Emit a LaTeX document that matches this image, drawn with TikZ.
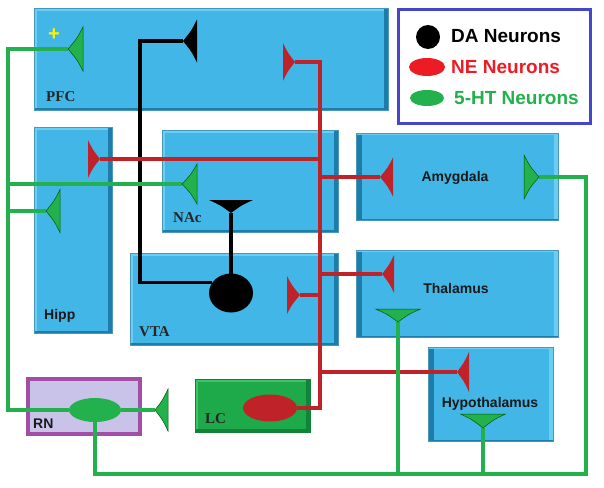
\documentclass[tikz,border=0pt]{standalone}
\usepackage{fontspec}
\setmainfont{Liberation Serif}
\setsansfont{Liberation Sans}
\usetikzlibrary{shapes.geometric}
\definecolor{boxblue}{HTML}{42B7E7}
\definecolor{boxdark}{HTML}{1C7DAA}
\definecolor{boxlight}{HTML}{6ACDF2}
\definecolor{lcgreen}{HTML}{1EAA4A}
\definecolor{lcdark}{HTML}{12843A}
\definecolor{lclight}{HTML}{3CC462}
\definecolor{rnfill}{HTML}{C9C3EA}
\definecolor{rnborder}{HTML}{A24DA8}
\definecolor{legblue}{HTML}{4646CC}
\definecolor{wgreen}{HTML}{22B14C}
\definecolor{wred}{HTML}{C0222A}
\definecolor{nered}{HTML}{ED1C24}
\definecolor{plusyellow}{HTML}{FFF200}
\pgfdeclarelayer{boxes}
\pgfdeclarelayer{wires}
\pgfsetlayers{boxes,wires,main}
\newcommand\drawsyn[5]{%
  \begin{scope}[shift={(#1)}, rotate=#2]
    \path[#5] (0,0) .. controls ({#3*0.6},{#4*0.48}) .. (#3,#4) -- (#3,-#4) .. controls ({#3*0.6},{-#4*0.48}) .. (0,0) -- cycle;
  \end{scope}}
\tikzset{
  regionA/.style={fill=boxblue, draw=boxdark!80, line width=0.6pt, inner sep=0pt,
    path picture={
      \fill[boxlight] (path picture bounding box.north west) rectangle ([xshift=3pt]path picture bounding box.south west);
      \fill[boxlight] (path picture bounding box.north west) rectangle ([yshift=-3pt]path picture bounding box.north east);
      \fill[boxdark] (path picture bounding box.north east) rectangle ([xshift=-4pt]path picture bounding box.south east);
      \fill[boxdark] (path picture bounding box.south west) rectangle ([yshift=2.5pt]path picture bounding box.south east);
    }},
  regionB/.style={fill=boxblue, draw=boxdark!80, line width=0.6pt, inner sep=0pt,
    path picture={
      \fill[boxdark] (path picture bounding box.north west) rectangle ([xshift=6pt]path picture bounding box.south west);
      \fill[boxlight] (path picture bounding box.north east) rectangle ([xshift=-4pt]path picture bounding box.south east);
      \fill[boxlight] (path picture bounding box.north west) rectangle ([yshift=-2pt]path picture bounding box.north east);
      \fill[boxdark] (path picture bounding box.south west) rectangle ([yshift=1.5pt]path picture bounding box.south east);
    }},
  lcbox/.style={fill=lcgreen, draw=lcdark, line width=1pt, inner sep=0pt,
    path picture={
      \fill[lclight] (path picture bounding box.north west) rectangle ([yshift=-3pt]path picture bounding box.north east);
      \fill[lclight] (path picture bounding box.north west) rectangle ([xshift=3pt]path picture bounding box.south west);
      \fill[lcdark] (path picture bounding box.north east) rectangle ([xshift=-4pt]path picture bounding box.south east);
      \fill[lcdark] (path picture bounding box.south west) rectangle ([yshift=3pt]path picture bounding box.south east);
    }},
  rnbox/.style={fill=rnfill, draw=rnborder, line width=4pt, inner sep=0pt},
  legendbox/.style={fill=white, draw=legblue, line width=3pt, inner sep=0pt},
  lblserif/.style={font=\fontsize{15}{17}\selectfont\bfseries, text=black!85, inner sep=0pt, anchor=base west},
  lblsans/.style={font=\sffamily\fontsize{14}{16}\selectfont\bfseries, text=black!90, inner sep=0pt, anchor=base west},
  legtext/.style={font=\sffamily\fontsize{19}{21}\selectfont\bfseries, inner sep=0pt, anchor=base west},
  daneuron/.style={ellipse, fill=black, inner sep=0pt},
  neneuron/.style={ellipse, fill=wred, inner sep=0pt},
  htneuron/.style={ellipse, fill=wgreen, inner sep=0pt},
  dawire/.style={draw=black, line width=3.2pt},
  newire/.style={draw=wred, line width=3.2pt},
  htwire/.style={draw=wgreen, line width=3.2pt},
  dasyn/.style={fill=black},
  nesyn/.style={fill=wred},
  htsyn/.style={fill=wgreen, draw=green!35!black, line width=0.5pt},
}
\begin{document}
\begin{tikzpicture}[x=1pt,y=-1pt]
\useasboundingbox (0,0) rectangle (604,487);
\begin{pgfonlayer}{boxes}
\node[regionA, minimum width=354pt, minimum height=102pt] (pfc) at (211,59) {};
\node[regionA, minimum width=78pt, minimum height=206pt] (hipp) at (73,230) {};
\node[regionA, minimum width=176pt, minimum height=102pt] (nac) at (250,181) {};
\node[regionA, minimum width=208pt, minimum height=92pt] (vta) at (234,299) {};
\node[regionB, minimum width=202pt, minimum height=87pt] (amy) at (457,176.5) {};
\node[regionB, minimum width=202pt, minimum height=87pt] (thal) at (457,293.5) {};
\node[regionB, minimum width=125pt, minimum height=94pt] (hypo) at (490.5,394) {};
\node[rnbox, minimum width=112pt, minimum height=55pt] (rn) at (84,406.5) {};
\node[lcbox, minimum width=115pt, minimum height=53pt] (lc) at (252.5,405.5) {};
\node[legendbox, minimum width=192pt, minimum height=114pt] (legend) at (494.5,66.5) {};
\end{pgfonlayer}
% region labels
\node[lblserif] (pfclbl) at (46,101) {PFC};
\node[lblserif] (naclbl) at (173,222) {NAc};
\node[lblserif] (vtalbl) at (139,336) {VTA};
\node[lblserif] (lclbl) at (205,423) {LC};
\node[lblsans] (hipplbl) at (44,319) {Hipp};
\node[lblsans] (rnlbl) at (33,428) {RN};
\node[lblsans, anchor=base] (amylbl) at (455,181) {Amygdala};
\node[lblsans, anchor=base] (thallbl) at (456,293) {Thalamus};
\node[lblsans, anchor=base] (hypolbl) at (490,407) {Hypothalamus};
\node[font=\sffamily\fontsize{20}{22}\selectfont\bfseries, text=plusyellow, inner sep=0pt] (plus) at (54,35) {+};
% legend
\node[daneuron, minimum width=24pt, minimum height=24pt] (legDA) at (428,37) {};
\node[neneuron, fill=nered, minimum width=36pt, minimum height=18pt] (legNE) at (427,67) {};
\node[htneuron, minimum width=34pt, minimum height=16pt] (legHT) at (427,98) {};
\node[legtext, text=black] (legDAtxt) at (451,43) {DA Neurons};
\node[legtext, text=nered] (legNEtxt) at (451,73) {NE Neurons};
\node[legtext, text=wgreen] (legHTtxt) at (454,104) {5-HT Neurons};
% neurons
\node[daneuron, minimum width=44pt, minimum height=39pt] (da) at (231,293) {};
\node[neneuron, minimum width=54pt, minimum height=27pt] (ne) at (270,408) {};
\node[htneuron, minimum width=52pt, minimum height=24pt] (ht) at (95,410) {};
% synapse tips
\coordinate (pfcDA) at (183,41);
\coordinate (nacDA) at (231,213);
\coordinate (daCorner) at (140,41);
\coordinate (pfcNE) at (295,62);
\coordinate (hippNE) at (100,159);
\coordinate (vtaNE) at (300,295);
\coordinate (amyNE) at (380,177);
\coordinate (thalNE) at (382,274);
\coordinate (hypoNE) at (457,372);
\coordinate (neTrunk) at (320,0);
\coordinate (pfcHT) at (68,49);
\coordinate (hippHT) at (46,211);
\coordinate (nacHT) at (182,184);
\coordinate (amyHT) at (539,177);
\coordinate (thalHT) at (398,322);
\coordinate (hypoHT) at (483,428);
\coordinate (rnHT) at (155,410);
\coordinate (htTrunk) at (8,0);
\coordinate (htBottom) at (0,474);
\coordinate (htRight) at (586,0);
% wires
\begin{pgfonlayer}{wires}
\draw[dawire] (da.150) -| (daCorner) -- (pfcDA);
\draw[dawire] (da.center) -- (nacDA);
\draw[newire] (ne.east) -| (neTrunk |- pfcNE) -- (pfcNE);
\foreach \c in {hippNE,vtaNE,amyNE,thalNE,hypoNE} \draw[newire] (neTrunk |- \c) -- (\c);
\draw[htwire] (ht.west) -| (htTrunk |- pfcHT) -- (pfcHT);
\foreach \c in {hippHT,nacHT} \draw[htwire] (htTrunk |- \c) -- (\c);
\draw[htwire] (ht.east) -- (rnHT);
\draw[htwire] (ht.south) |- (htRight |- htBottom) |- (amyHT);
\draw[htwire] (thalHT) -- (thalHT |- htBottom);
\draw[htwire] (hypoHT) -- (hypoHT |- htBottom);
\end{pgfonlayer}
% synapses
\drawsyn{pfcDA}{0}{14}{21.5}{dasyn}
\drawsyn{nacDA}{90}{13}{22}{dasyn}
\drawsyn{pfcNE}{180}{12}{19}{nesyn}
\drawsyn{hippNE}{180}{12}{19}{nesyn}
\drawsyn{vtaNE}{180}{13}{19}{nesyn}
\drawsyn{amyNE}{0}{13}{19.5}{nesyn}
\drawsyn{thalNE}{0}{12}{19}{nesyn}
\drawsyn{hypoNE}{0}{12}{20}{nesyn}
\drawsyn{pfcHT}{0}{15}{22}{htsyn}
\drawsyn{hippHT}{0}{14}{21.5}{htsyn}
\drawsyn{nacHT}{0}{15}{20}{htsyn}
\drawsyn{amyHT}{180}{15}{22}{htsyn}
\drawsyn{thalHT}{90}{13}{22.5}{htsyn}
\drawsyn{hypoHT}{90}{14}{22.5}{htsyn}
\drawsyn{rnHT}{0}{13}{21}{htsyn}
\end{tikzpicture}
\end{document}
